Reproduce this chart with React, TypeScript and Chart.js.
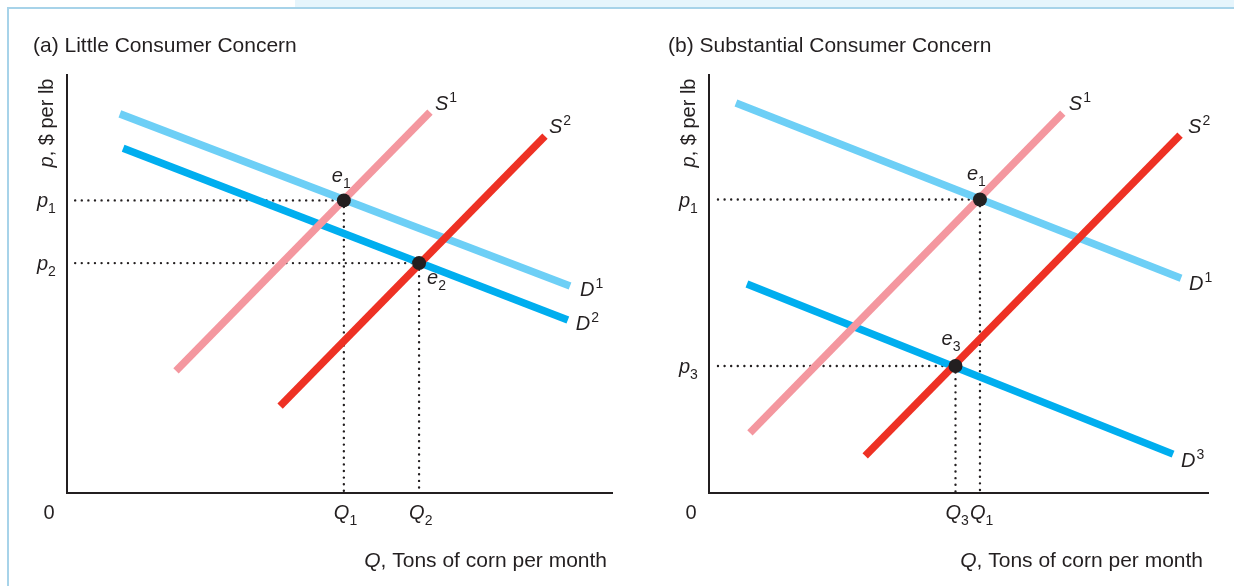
import React, { useEffect, useRef } from "react";
import { Chart, registerables } from "chart.js";

Chart.register(...registerables);

type Pt = { x: number; y: number };

// ---------- data ----------
const panelTitles = ["(a) Little Consumer Concern", "(b) Substantial Consumer Concern"];
const yAxisTitle = ["p", ", $ per lb"];
const xAxisTitle = ["Q", ", Tons of corn per month"];
const originLabel = "0";

// panel (a): little consumer concern
const aDemand1: Pt[] = [{ x: 9.7, y: 90.7 }, { x: 92.3, y: 49.5 }];
const aDemand2: Pt[] = [{ x: 10.3, y: 82.5 }, { x: 91.9, y: 41.4 }];
const aSupply1: Pt[] = [{ x: 20.0, y: 29.2 }, { x: 66.6, y: 91.1 }];
const aSupply2: Pt[] = [{ x: 39.1, y: 20.8 }, { x: 87.7, y: 85.4 }];
const aEquilibria: Pt[] = [{ x: 50.8, y: 70.0 }, { x: 64.6, y: 55.0 }];
const aEqIndex = ["1", "2"];
const aPriceIndex = ["1", "2"];
const aQtyIndex = ["1", "2"];
const aCurveIndex = ["1", "2", "1", "2"]; // D1, D2, S1, S2

// panel (b): substantial consumer concern
const bDemand1: Pt[] = [{ x: 5.4, y: 93.3 }, { x: 94.6, y: 51.4 }];
const bDemand3: Pt[] = [{ x: 7.6, y: 50.0 }, { x: 93.0, y: 9.3 }];
const bSupply1: Pt[] = [{ x: 8.2, y: 14.4 }, { x: 70.9, y: 90.9 }];
const bSupply2: Pt[] = [{ x: 31.3, y: 8.9 }, { x: 94.4, y: 85.6 }];
const bEquilibria: Pt[] = [{ x: 54.3, y: 70.2 }, { x: 49.4, y: 30.4 }];
const bEqIndex = ["1", "3"];
const bPriceIndex = ["1", "3"];
const bQtyIndex = ["1", "3"];
const bCurveIndex = ["1", "3", "1", "2"]; // D1, D3, S1, S2

// ---------- styles ----------
const INK = "#231f20";
const LIGHT_BLUE = "#6dcff6";
const BLUE = "#00aeef";
const PINK = "#f4979f";
const RED = "#ee3124";
const FONT = '"Liberation Sans", Arial, Helvetica, sans-serif';
const FS = 20;
const TITLE_FS = 21;

type Part = { t: string; it?: boolean; sub?: boolean; sup?: boolean };

function richText(ctx: CanvasRenderingContext2D, x: number, y: number, parts: Part[], align: "left" | "center" | "right" = "left", size = FS) {
  const fontFor = (p: Part) => `${p.it ? "italic " : ""}${p.sub || p.sup ? Math.round(size * 0.72) : size}px ${FONT}`;
  let w = 0;
  const widths: number[] = [];
  for (const p of parts) {
    ctx.font = fontFor(p);
    const pw = ctx.measureText(p.t).width + (p.sup ? 1 : 0);
    widths.push(pw);
    w += pw;
  }
  let cx = align === "right" ? x - w : align === "center" ? x - w / 2 : x;
  ctx.textBaseline = "alphabetic";
  ctx.textAlign = "left";
  ctx.fillStyle = INK;
  parts.forEach((p, i) => {
    ctx.font = fontFor(p);
    const dy = p.sub ? size * 0.3 : p.sup ? -size * 0.4 : 0;
    ctx.fillText(p.t, cx + (p.sup ? 1 : 0), y + dy);
    cx += widths[i];
  });
}

type PanelSpec = {
  title: string;
  titleDx: number;
  curves: { pts: Pt[]; color: string; kind: "D" | "S"; idx: string; dx: number; dy: number }[];
  eq: Pt[];
  eqIndex: string[];
  eqOffsets: [number, number][];
  priceIndex: string[];
  qtyIndex: string[];
  guideStart: number;
  padding: { left: number; right: number; top: number; bottom: number };
};

const panels: PanelSpec[] = [
  {
    title: panelTitles[0],
    titleDx: -34,
    curves: [
      { pts: aDemand1, color: LIGHT_BLUE, kind: "D", idx: aCurveIndex[0], dx: 10, dy: 10 },
      { pts: aDemand2, color: BLUE, kind: "D", idx: aCurveIndex[1], dx: 8, dy: 10 },
      { pts: aSupply1, color: PINK, kind: "S", idx: aCurveIndex[2], dx: 5, dy: -2 },
      { pts: aSupply2, color: RED, kind: "S", idx: aCurveIndex[3], dx: 4, dy: -3 },
    ],
    eq: aEquilibria,
    eqIndex: aEqIndex,
    eqOffsets: [[-12, -18], [8, 21]],
    priceIndex: aPriceIndex,
    qtyIndex: aQtyIndex,
    guideStart: 1.5,
    padding: { left: 67, right: 8, top: 75, bottom: 93 },
  },
  {
    title: panelTitles[1],
    titleDx: -41,
    curves: [
      { pts: bDemand1, color: LIGHT_BLUE, kind: "D", idx: bCurveIndex[0], dx: 8, dy: 12 },
      { pts: bDemand3, color: BLUE, kind: "D", idx: bCurveIndex[1], dx: 8, dy: 13 },
      { pts: bSupply1, color: PINK, kind: "S", idx: bCurveIndex[2], dx: 6, dy: -3 },
      { pts: bSupply2, color: RED, kind: "S", idx: bCurveIndex[3], dx: 8, dy: -2 },
    ],
    eq: bEquilibria,
    eqIndex: bEqIndex,
    eqOffsets: [[-13, -20], [-14, -21]],
    priceIndex: bPriceIndex,
    qtyIndex: bQtyIndex,
    guideStart: 1.8,
    padding: { left: 89, right: 26, top: 75, bottom: 93 },
  },
];

function buildChart(canvas: HTMLCanvasElement, spec: PanelSpec) {
  const datasets: any[] = [];
  datasets.push({
    data: spec.eq,
    showLine: false,
    pointRadius: 7,
    pointBackgroundColor: INK,
    pointBorderWidth: 0,
    order: 0,
    clip: false,
  });
  spec.curves.forEach((c) => {
    datasets.push({
      data: c.pts,
      showLine: true,
      borderColor: c.color,
      borderWidth: 7.5,
      borderCapStyle: "butt",
      pointRadius: 0,
      order: c.kind === "S" ? 1 : 2,
      clip: false,
    });
  });
  spec.eq.forEach((e) => {
    const guide = {
      showLine: true,
      borderColor: INK,
      borderWidth: 2.4,
      borderDash: [0, 6.6],
      borderCapStyle: "round",
      pointRadius: 0,
      order: 3,
    };
    datasets.push({ ...guide, data: [{ x: spec.guideStart, y: e.y }, { x: e.x, y: e.y }] });
    datasets.push({ ...guide, data: [{ x: e.x, y: e.y }, { x: e.x, y: 0 }] });
  });

  const labelPlugin = {
    id: "econLabels",
    afterDraw(chart: any) {
      const ctx: CanvasRenderingContext2D = chart.ctx;
      const xs = chart.scales.x;
      const ys = chart.scales.y;
      const area = chart.chartArea;
      ctx.save();
      // panel title
      richText(ctx, area.left + spec.titleDx, 52, [{ t: spec.title }], "left", TITLE_FS);
      // y axis title
      ctx.save();
      ctx.translate(area.left - 21, area.top + 48);
      ctx.rotate(-Math.PI / 2);
      richText(ctx, 0, 7, [{ t: yAxisTitle[0], it: true }, { t: yAxisTitle[1] }], "center", FS);
      ctx.restore();
      // x axis title
      richText(ctx, area.right - 5, area.bottom + 74, [{ t: xAxisTitle[0], it: true }, { t: xAxisTitle[1] }], "right", TITLE_FS);
      // origin
      richText(ctx, area.left - 18, area.bottom + 26, [{ t: originLabel }], "center");
      // curve labels
      spec.curves.forEach((c) => {
        const end = c.pts[c.pts.length - 1];
        const px = xs.getPixelForValue(end.x) + c.dx;
        const py = ys.getPixelForValue(end.y) + c.dy;
        richText(ctx, px, py, [{ t: c.kind, it: true }, { t: c.idx, sup: true }]);
      });
      // equilibrium, price and quantity labels
      spec.eq.forEach((e, i) => {
        const px = xs.getPixelForValue(e.x);
        const py = ys.getPixelForValue(e.y);
        const [ox, oy] = spec.eqOffsets[i];
        richText(ctx, px + ox, py + oy, [{ t: "e", it: true }, { t: spec.eqIndex[i], sub: true }]);
        richText(ctx, area.left - 30, py + 7, [{ t: "p", it: true }, { t: spec.priceIndex[i], sub: true }]);
        richText(ctx, px - 10, area.bottom + 26, [{ t: "Q", it: true }, { t: spec.qtyIndex[i], sub: true }]);
      });
      ctx.restore();
    },
  };

  return new Chart(canvas, {
    type: "scatter",
    data: { datasets },
    options: {
      animation: false,
      responsive: false,
      devicePixelRatio: 1,
      layout: { padding: spec.padding },
      plugins: { legend: { display: false }, tooltip: { enabled: false }, title: { display: false } },
      events: [],
      scales: {
        x: {
          type: "linear",
          min: 0,
          max: 100,
          grid: { display: false, drawTicks: false },
          ticks: { display: false },
          border: { display: true, color: INK, width: 2 },
        },
        y: {
          type: "linear",
          min: 0,
          max: 100,
          grid: { display: false, drawTicks: false },
          ticks: { display: false },
          border: { display: true, color: INK, width: 2 },
        },
      },
    } as any,
    plugins: [labelPlugin],
  });
}

export default function App() {
  const leftRef = useRef<HTMLCanvasElement>(null);
  const rightRef = useRef<HTMLCanvasElement>(null);

  useEffect(() => {
    const charts: Chart[] = [];
    if (leftRef.current) charts.push(buildChart(leftRef.current, panels[0]));
    if (rightRef.current) charts.push(buildChart(rightRef.current, panels[1]));
    return () => charts.forEach((c) => c.destroy());
  }, []);

  return (
    <div style={{ position: "absolute", left: 0, top: 0, width: 1234, height: 586, background: "#ffffff", overflow: "hidden" }}>
      <div style={{ position: "absolute", left: 295, top: 0, width: 939, height: 7, background: "#e6f5fc" }} />
      <div style={{ position: "absolute", left: 7, top: 7, width: 1227, height: 2, background: "#a7d3e9" }} />
      <div style={{ position: "absolute", left: 7, top: 7, width: 2, height: 579, background: "#a7d3e9" }} />
      <canvas ref={leftRef} width={620} height={586} style={{ position: "absolute", left: 0, top: 0, width: 620, height: 586 }} />
      <canvas ref={rightRef} width={614} height={586} style={{ position: "absolute", left: 620, top: 0, width: 614, height: 586 }} />
    </div>
  );
}
